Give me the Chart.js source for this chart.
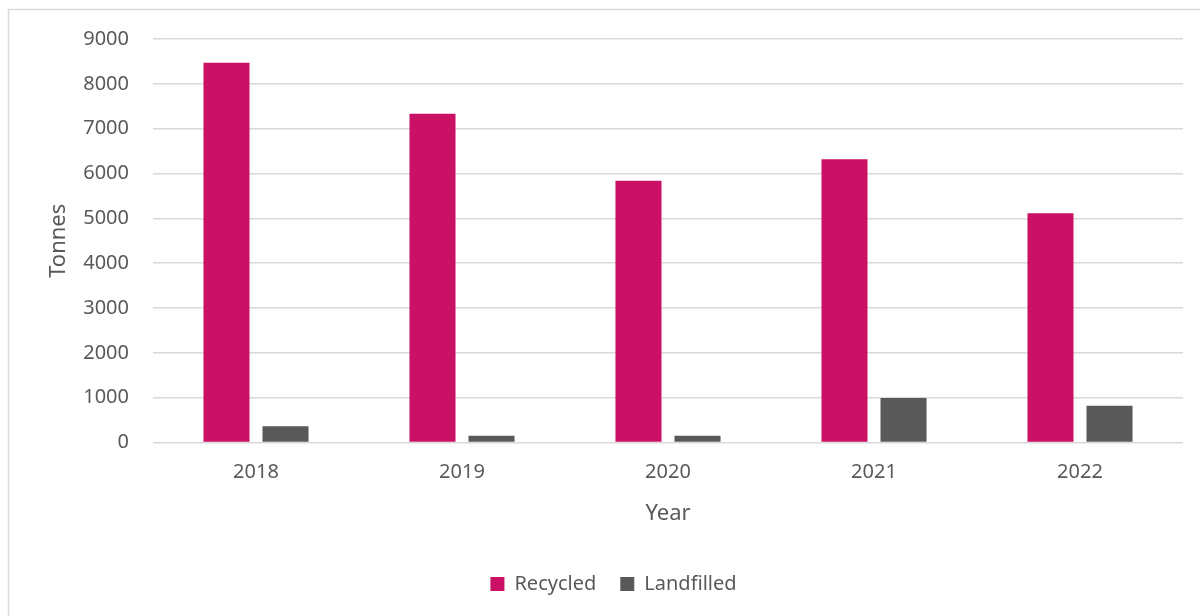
<!DOCTYPE html>
<html>
<head>
<meta charset="utf-8">
<script src="https://cdn.jsdelivr.net/npm/chart.js@4/dist/chart.umd.min.js"></script>
<style>
  html, body { margin: 0; padding: 0; background: #ffffff; }
  #wrap { width: 1200px; height: 616px; position: relative; }
</style>
</head>
<body>
<div id="wrap"><canvas id="chart" width="1200" height="616"></canvas></div>
<script>
// Waste tonnage by year
const years = ['2018', '2019', '2020', '2021', '2022'];
const recycled = [8470, 7330, 5840, 6320, 5115];
const landfilled = [360, 150, 150, 990, 820];
const yTicks = [0, 1000, 2000, 3000, 4000, 5000, 6000, 7000, 8000, 9000];

const textColor = '#595959';
const gridColor = '#d9d9d9';
const fontFamily = '"Noto Sans", "Open Sans", sans-serif';

// light frame around the whole chart
const framePlugin = {
  id: 'frame',
  beforeDraw(chart) {
    const ctx = chart.ctx;
    ctx.save();
    ctx.fillStyle = '#ffffff';
    ctx.fillRect(0, 0, chart.width, chart.height);
    ctx.strokeStyle = gridColor;
    ctx.lineWidth = 1.5;
    ctx.strokeRect(8.5, 9.5, chart.width + 20, chart.height + 20);
    ctx.restore();
  }
};

// nudge the legend a little to the right
const legendShift = {
  id: 'legendShift',
  afterLayout(chart) {
    if (chart.legend) {
      chart.legend.left += 22;
      chart.legend.right += 22;
    }
  }
};

new Chart(document.getElementById('chart'), {
  type: 'bar',
  data: {
    labels: years,
    datasets: [
      { label: 'Recycled', data: recycled, backgroundColor: '#cb1166',
        categoryPercentage: 0.573, barPercentage: 0.78 },
      { label: 'Landfilled', data: landfilled, backgroundColor: '#595959',
        categoryPercentage: 0.573, barPercentage: 0.78 }
    ]
  },
  options: {
    responsive: false,
    animation: false,
    layout: { padding: { top: 39, right: 17, bottom: 12, left: 0 } },
    plugins: {
      legend: {
        position: 'bottom',
        labels: {
          color: textColor,
          font: { family: fontFamily, size: 20 },
          boxWidth: 14,
          boxHeight: 14,
          padding: 24
        }
      },
      tooltip: { enabled: false }
    },
    scales: {
      x: {
        grid: { display: false, drawTicks: false },
        border: { display: false },
        ticks: { color: textColor, font: { family: fontFamily, size: 20 }, padding: 18 },
        title: {
          display: true, text: 'Year', color: textColor,
          font: { family: fontFamily, size: 22 },
          padding: { top: 0, bottom: 23.3 }
        },
        afterFit(scale) { scale.height = 107.5; }
      },
      y: {
        min: 0,
        max: 9000,
        afterBuildTicks(scale) { scale.ticks = yTicks.map(v => ({ value: v })); },
        grid: { color: gridColor, lineWidth: 1.5, drawTicks: false },
        border: { display: false },
        ticks: {
          color: textColor, font: { family: fontFamily, size: 20 }, padding: 24,
          callback: (v) => String(v)
        },
        title: {
          display: true, text: 'Tonnes', color: textColor,
          font: { family: fontFamily, size: 22 },
          padding: { top: 46, bottom: 0 }
        },
        afterFit(scale) { scale.width = 153; }
      }
    }
  },
  plugins: [framePlugin, legendShift]
});
</script>
</body>
</html>
